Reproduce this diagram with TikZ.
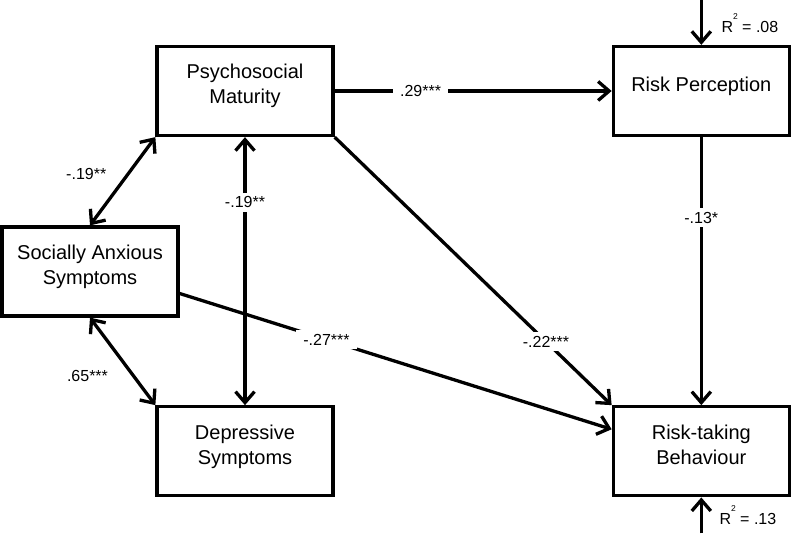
\documentclass[tikz,border=0pt]{standalone}
\usepackage{fontspec}
\setmainfont{Liberation Sans}
\usepackage{tikz}
\usetikzlibrary{arrows.meta,positioning}

\tikzset{
  box/.style={draw, line width=3.3pt, minimum width=176pt, minimum height=89pt, align=center, text depth=14pt, font=\fontsize{20}{25}\selectfont},
  coef/.style={fill=white, inner xsep=7pt, inner ysep=4pt, font=\fontsize{16}{19}\selectfont},
  rsq/.style={inner sep=0pt, font=\fontsize{16}{19}\selectfont},
  link/.style={line width=3.3pt},
  >={Straight Barb[length=11pt,width=19pt]}
}
\newcommand{\rsquare}[1]{R\raisebox{13pt}{\fontsize{8.5}{9}\selectfont 2} = #1}

\begin{document}
\begin{tikzpicture}[x=1pt,y=1pt]
    \useasboundingbox (0,0) rectangle (792,534);
    \node[box] (PM) at (245,443) {Psychosocial\\Maturity};
    \node[box, right=277pt of PM] (RP) {Risk Perception};
    \node[box] (SAS) at (90,262.5) {Socially Anxious\\Symptoms};
    \node[box, below=268pt of PM] (DS) {Depressive\\Symptoms};
    \node[box, below=268pt of RP] (RTB) {Risk-taking\\Behaviour};
    % residual arrows
    \coordinate[above=46pt of RP] (rpin);
    \coordinate[below=36pt of RTB] (rtbin);
    \node[rsq, above right=12pt and 20pt of RP.north] (r2rp) {\rsquare{.08}};
    \node[rsq, below right=8pt and 18pt of RTB.south] (r2rtb) {\rsquare{.13}};
    \draw[link,->] (rpin) -- (RP);
    \draw[link,->] (rtbin) -- (RTB);
    % paths
    \draw[link,->] (PM) -- node[coef, pos=0.31] (b1) {.29***} (RP);
    \draw[link,->] (RP) -- node[coef, pos=0.30] (b2) {-.13*} (RTB);
    \draw[link,->] ([yshift=-22pt]SAS.east) -- node[coef, pos=0.34] (b3) {-.27***} ([yshift=22pt]RTB.west);
    \draw[link,->] (PM.south east) -- node[coef, pos=0.763] (b4) {-.22***} (RTB.north west);
    % correlations
    \draw[link,<->] (PM.south west) -- node[coef, pos=0.42, left=13pt] (c1) {-.19**} (SAS.north);
    \draw[link,<->] (PM) -- node[coef, pos=0.243] (c2) {-.19**} (DS);
    \draw[link,<->] (SAS.south) -- node[coef, pos=0.667, left=17pt] (c3) {.65***} (DS.north west);
\end{tikzpicture}
\end{document}
